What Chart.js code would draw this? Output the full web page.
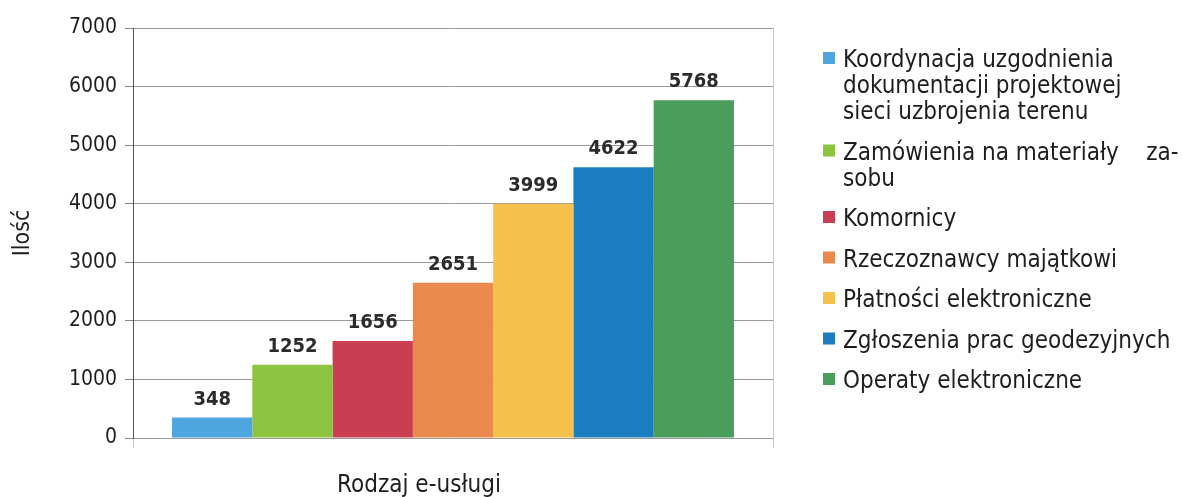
<!DOCTYPE html>
<html>
<head>
<meta charset="utf-8">
<script src="https://cdn.jsdelivr.net/npm/chart.js@4.4.0/dist/chart.umd.min.js"></script>
<style>
  html, body { margin: 0; padding: 0; background: #fff; }
  #wrap { width: 1183px; height: 497px; }
</style>
</head>
<body>
<div id="wrap"><canvas id="chart" width="1183" height="497"></canvas></div>
<script>
// data
const categories = [""];
const seriesLabels = [
  "Koordynacja uzgodnienia dokumentacji projektowej sieci uzbrojenia terenu",
  "Zamówienia na materiały zasobu",
  "Komornicy",
  "Rzeczoznawcy majątkowi",
  "Płatności elektroniczne",
  "Zgłoszenia prac geodezyjnych",
  "Operaty elektroniczne"
];
const legendLines = [
  ["Koordynacja uzgodnienia", "dokumentacji projektowej", "sieci uzbrojenia terenu"],
  ["Zamówienia na materiały    za-", "sobu"],
  ["Komornicy"],
  ["Rzeczoznawcy majątkowi"],
  ["Płatności elektroniczne"],
  ["Zgłoszenia prac geodezyjnych"],
  ["Operaty elektroniczne"]
];
const values = [348, 1252, 1656, 2651, 3999, 4622, 5768];
const colors = ["#4fa6de", "#8cc43f", "#c93f51", "#e98a4c", "#f4c14c", "#1b7cbf", "#4b9d5c"];
const yTicks = [0, 1000, 2000, 3000, 4000, 5000, 6000, 7000];
const yTitle = "Ilość";
const xTitle = "Rodzaj e-usługi";

const FONT = "'DejaVu Sans Condensed', 'DejaVu Sans', sans-serif";
const TEXT = "#1e1e1e";

// value labels, legend and x title drawn on the canvas
const extras = {
  id: "extras",
  afterDatasetsDraw(chart) {
    const ctx = chart.ctx;
    ctx.save();
    ctx.font = "bold 20px " + FONT;
    ctx.fillStyle = "#2b2b2b";
    ctx.textAlign = "center";
    ctx.textBaseline = "alphabetic";
    chart.data.datasets.forEach((ds, i) => {
      const bar = chart.getDatasetMeta(i).data[0];
      ctx.fillText(String(ds.data[0]), bar.x, bar.y - 13);
    });
    ctx.restore();
  },
  afterDraw(chart) {
    const ctx = chart.ctx;
    ctx.save();
    ctx.font = "24px " + FONT;
    ctx.fillStyle = TEXT;
    ctx.textBaseline = "alphabetic";

    ctx.textAlign = "center";
    ctx.fillText(xTitle, 419, 492);

    ctx.textAlign = "left";
    let y = 67;
    chart.data.datasets.forEach((ds, i) => {
      ctx.fillStyle = ds.backgroundColor;
      ctx.fillRect(823, y - 15, 12, 12);
      ctx.fillStyle = TEXT;
      legendLines[i].forEach((line, j) => {
        ctx.fillText(line, 843, y + j * 26);
      });
      y += (legendLines[i].length - 1) * 26 + 40.5;
    });
    ctx.restore();
  }
};

const ctx = document.getElementById("chart").getContext("2d");
new Chart(ctx, {
  type: "bar",
  data: {
    labels: categories,
    datasets: seriesLabels.map((label, i) => ({
      label: label,
      data: [values[i]],
      backgroundColor: colors[i],
      borderWidth: 0
    }))
  },
  options: {
    responsive: false,
    animation: false,
    events: [],
    layout: { padding: { top: 28, right: 410, bottom: 0, left: 0 } },
    datasets: { bar: { categoryPercentage: 0.878, barPercentage: 1 } },
    plugins: {
      legend: { display: false },
      tooltip: { enabled: false }
    },
    scales: {
      x: {
        afterFit: (s) => { s.height = 59; },
        ticks: { display: false },
        grid: { offset: true, color: "#c8c8c8", tickLength: 10, drawTicks: true },
        border: { display: false }
      },
      y: {
        min: 0,
        max: 7000,
        afterFit: (s) => { s.width = 133; },
        afterBuildTicks: (s) => { s.ticks = yTicks.map((v) => ({ value: v })); },
        ticks: {
          callback: (v) => String(v),
          font: { family: FONT, size: 21 },
          color: TEXT,
          padding: 8
        },
        grid: { color: "#9a9a9a", tickLength: 8, tickColor: "#888" },
        border: { display: true, color: "#555" },
        title: {
          display: true,
          text: yTitle,
          font: { family: FONT, size: 23 },
          color: TEXT,
          padding: { top: 9, bottom: 0 }
        }
      }
    }
  },
  plugins: [extras]
});
</script>
</body>
</html>
